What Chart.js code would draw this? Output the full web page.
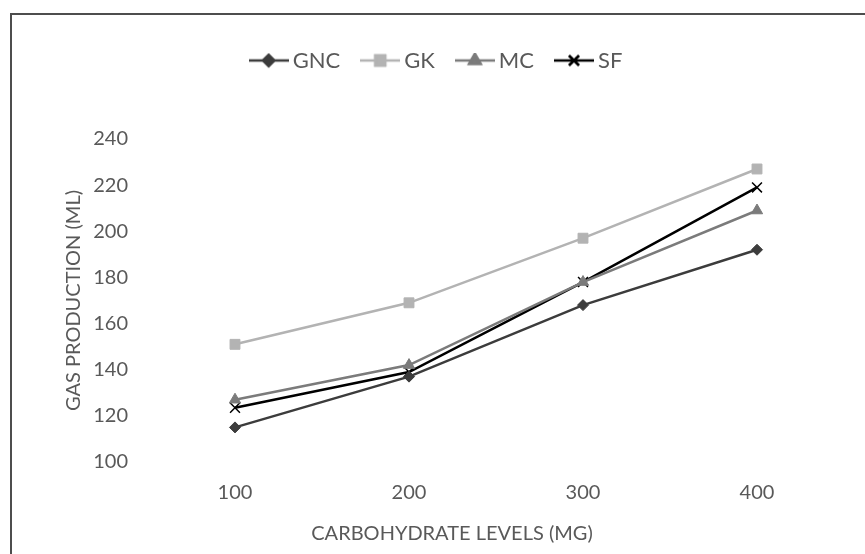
<!DOCTYPE html>
<html>
<head>
<meta charset="utf-8">
<script src="https://cdn.jsdelivr.net/npm/chart.js@4.4.1/dist/chart.umd.min.js"></script>
<style>
  html, body { margin: 0; padding: 0; background: #fff; }
  #wrap { width: 865px; height: 554px; position: relative; }
</style>
</head>
<body>
<div id="wrap"><canvas id="chart" width="865" height="554"></canvas></div>
<script>
const levels = ["100", "200", "300", "400"];
const gnc = [115, 137, 168, 192];
const gk = [151, 169, 197, 227];
const mc = [127, 142, 178, 209];
const sf = [123.5, 139, 178, 219];
const yTicks = [100, 120, 140, 160, 180, 200, 220, 240];
const xTitle = "CARBOHYDRATE LEVELS (MG)";

const textColor = "#595959";
const font = "Lato, 'Liberation Sans', sans-serif";

// small legend swatch: line with the marker in the middle
function swatch(color, style, r, bw) {
  const c = document.createElement("canvas");
  c.width = 40;
  c.height = 16;
  const ctx = c.getContext("2d");
  ctx.strokeStyle = color;
  ctx.lineWidth = 2.5;
  ctx.beginPath();
  ctx.moveTo(0, 8);
  ctx.lineTo(40, 8);
  ctx.stroke();
  Chart.helpers.drawPoint(ctx, { pointStyle: style, radius: r, borderWidth: bw }, 20, 8);
  ctx.fillStyle = color;
  ctx.fill();
  ctx.stroke();
  return c;
}

function series(label, data, color, style, r, bw) {
  return {
    label: label,
    data: data,
    borderColor: color,
    backgroundColor: color,
    borderWidth: 2.5,
    pointStyle: style,
    pointRadius: r,
    pointBorderWidth: bw,
    pointBackgroundColor: color,
    pointBorderColor: color,
    tension: 0,
    legendImg: swatch(color, style, r, bw),
  };
}

const frame = {
  id: "frame",
  beforeDraw(chart) {
    const ctx = chart.ctx;
    ctx.save();
    ctx.strokeStyle = "#4d4d4d";
    ctx.lineWidth = 2;
    ctx.strokeRect(11, 14, 900, 600);
    ctx.restore();
  },
  // x axis title sits a bit left of the plot centre, like in Excel
  afterDraw(chart) {
    const ctx = chart.ctx;
    ctx.save();
    ctx.fillStyle = textColor;
    ctx.font = "20px " + font;
    ctx.textAlign = "center";
    ctx.textBaseline = "middle";
    ctx.fillText(xTitle, 452, 534);
    ctx.restore();
  },
};

// keep the legend band tall so the plot starts where the reference does
const legendSpace = {
  id: "legendSpace",
  afterInit(chart) {
    const lg = chart.legend;
    const fit = lg.fit;
    lg.fit = function () {
      fit.call(this);
      this.height = 116.5;
    };
  },
  afterLayout(chart) {
    chart.legend.left += 17;
    chart.legend.right += 17;
  },
};

new Chart(document.getElementById("chart"), {
  type: "line",
  data: {
    labels: levels,
    datasets: [
      series("GNC", gnc, "#3c3c3c", "rectRot", 5.5, 1),
      series("GK", gk, "#b3b3b3", "rect", 7, 1),
      series("MC", mc, "#7b7b7b", "triangle", 6.5, 1),
      series("SF", sf, "#000000", "crossRot", 7, 1.5),
    ],
  },
  options: {
    responsive: false,
    animation: false,
    layout: { padding: { top: 22.5, right: 21, left: 0, bottom: 0 } },
    plugins: {
      tooltip: { enabled: false },
      legend: {
        position: "top",
        labels: {
          usePointStyle: true,
          pointStyleWidth: 26,
          padding: 27,
          color: textColor,
          font: { family: font, size: 22 },
          generateLabels(chart) {
            return chart.data.datasets.map((ds, i) => ({
              text: ds.label,
              pointStyle: ds.legendImg,
              fontColor: textColor,
              datasetIndex: i,
              lineWidth: 0,
            }));
          },
        },
      },
    },
    scales: {
      x: {
        type: "category",
        offset: true,
        grid: { display: false, drawTicks: false },
        border: { display: false },
        ticks: { color: textColor, font: { family: font, size: 20 }, padding: 19 },
        afterFit(scale) {
          scale.height = 92;
        },
      },
      y: {
        min: 100,
        max: 240,
        afterBuildTicks(scale) {
          scale.ticks = yTicks.map((v) => ({ value: v }));
        },
        grid: { display: false, drawTicks: false },
        border: { display: false },
        ticks: { color: textColor, font: { family: font, size: 20 }, padding: 20 },
        title: {
          display: true,
          text: "GAS PRODUCTION (ML)",
          color: textColor,
          font: { family: font, size: 20 },
          padding: 62,
        },
        afterFit(scale) {
          scale.width = 148;
        },
      },
    },
  },
  plugins: [frame, legendSpace],
});
</script>
</body>
</html>
